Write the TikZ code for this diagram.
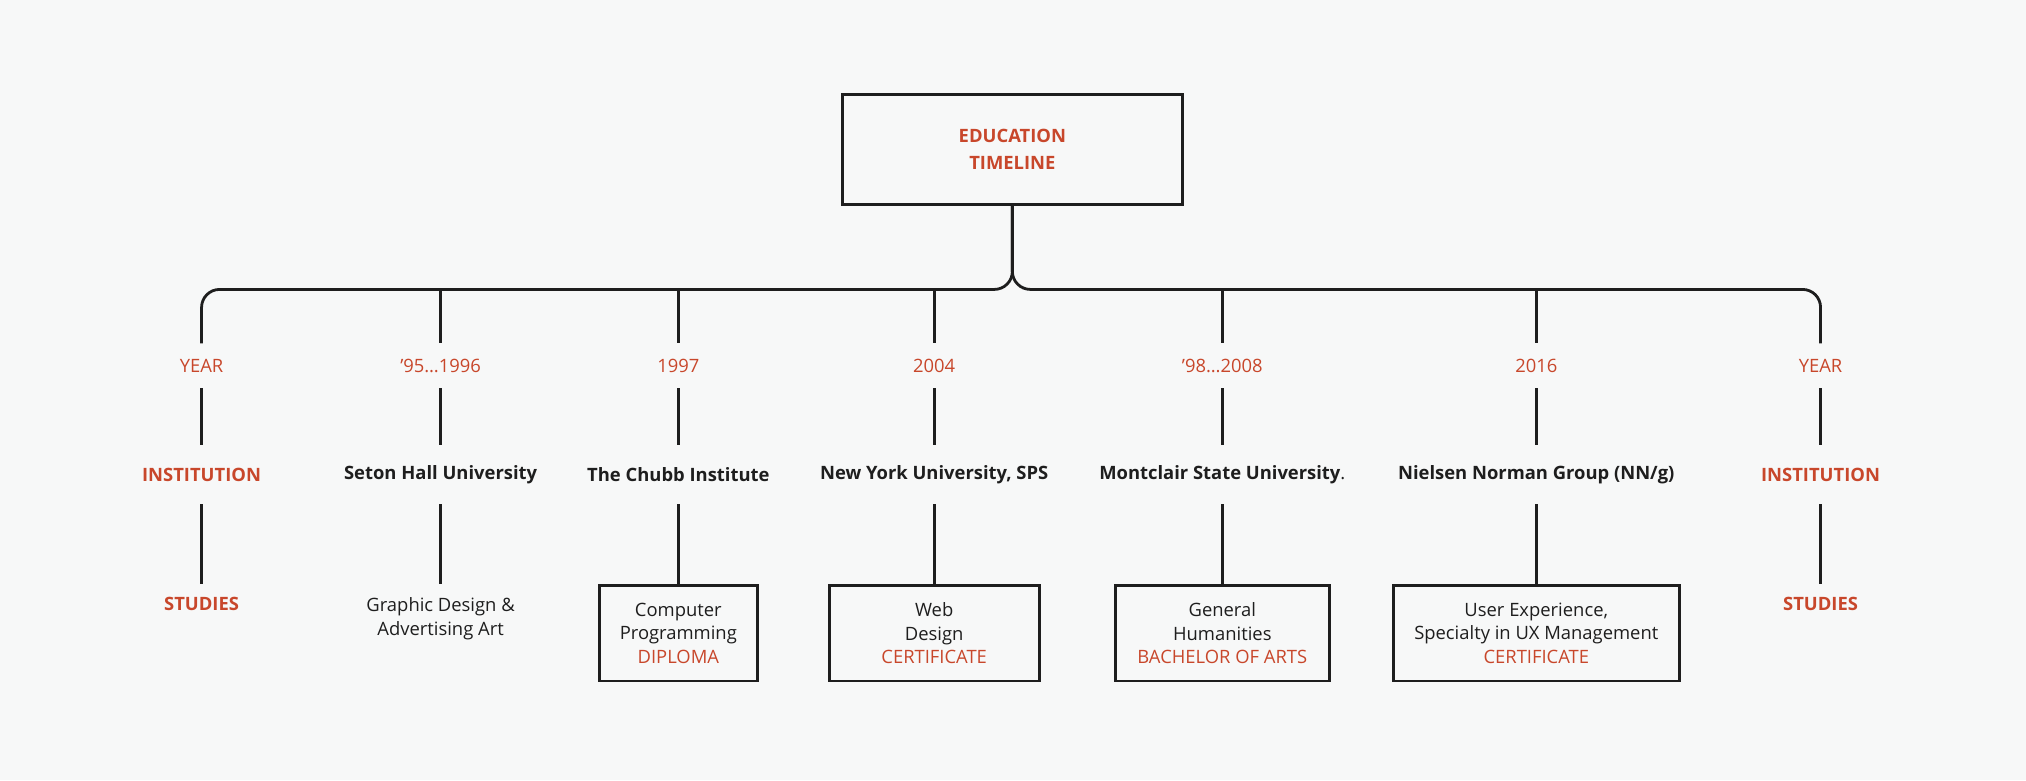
\documentclass[tikz,border=0pt]{standalone}
\usepackage{fontspec}
\setmainfont{Open Sans}
\definecolor{bgcol}{HTML}{F7F8F8}
\definecolor{edured}{HTML}{C8472B}
\definecolor{inkcol}{HTML}{1E1E1E}
\tikzset{
  every node/.style={font=\fontsize{9.2}{11.8}\selectfont, text=inkcol, align=center},
  wire/.style={draw=inkcol, line width=1.4pt},
  yearlbl/.style={text=edured, minimum height=22pt, inner sep=0pt},
  instlbl/.style={font=\fontsize{9.2}{11.8}\selectfont\bfseries, minimum height=29pt, inner sep=0pt},
  studylbl/.style={anchor=north, inner sep=6.5pt},
  studybox/.style={anchor=north, draw=inkcol, line width=1.4pt, minimum height=47.8pt, inner sep=2pt},
}
\begin{document}
\begin{tikzpicture}[x=0.646pt,y=-0.646pt]
\fill[bgcol] (0,0) rectangle (1568,604);
\useasboundingbox (0,0) rectangle (1568,604);
% title box
\node[draw=inkcol, line width=1.4pt, minimum width=170pt, minimum height=55pt,
  font=\fontsize{9.2}{13.5}\selectfont\bfseries, text=edured] (title) at (783.5,115.5) {EDUCATION\\TIMELINE};
% columns
\foreach \n/\x/\yr in {1/156/YEAR, 2/341/'95\dots1996, 3/525/1997, 4/723/2004,
                       5/946/'98\dots2008, 6/1189/2016, 7/1409/YEAR}{
  \node[yearlbl] (year\n) at (\x,283) {\yr};
  \coordinate (bus\n) at (\x,224);
}
\node[instlbl, text=edured] (inst1) at (156,367.5) {INSTITUTION};
\node[instlbl] (inst2) at (341,367.5) {Seton Hall University};
\node[instlbl] (inst3) at (525,367.5) {The Chubb Institute};
\node[instlbl] (inst4) at (723,367.5) {New York University, SPS};
\node[instlbl] (inst5) at (946,367.5) {Montclair State University\textmd{.}};
\node[instlbl] (inst6) at (1189,367.5) {Nielsen Norman Group (NN/g)};
\node[instlbl, text=edured] (inst7) at (1409,367.5) {INSTITUTION};
\node[studylbl, font=\fontsize{9.2}{11.8}\selectfont\bfseries, text=edured] (study1) at (156,452) {STUDIES};
\node[studylbl] (study2) at (341,452) {Graphic Design \&\\Advertising Art};
\node[studybox, minimum width=79pt] (study3) at (525,452) {Computer\\Programming\\\textcolor{edured}{DIPLOMA}};
\node[studybox, minimum width=105pt] (study4) at (723,452) {Web\\Design\\\textcolor{edured}{CERTIFICATE}};
\node[studybox, minimum width=107pt] (study5) at (946,452) {General\\Humanities\\\textcolor{edured}{BACHELOR OF ARTS}};
\node[studybox, minimum width=143pt] (study6) at (1189,452) {User Experience,\\Specialty in UX Management\\\textcolor{edured}{CERTIFICATE}};
\node[studylbl, font=\fontsize{9.2}{11.8}\selectfont\bfseries, text=edured] (study7) at (1409,452) {STUDIES};
% bus
\draw[wire, rounded corners=9pt] (title.south) |- (bus1) -- (year1.north);
\draw[wire, rounded corners=9pt] (title.south) |- (bus7) -- (year7.north);
\foreach \n in {2,...,6}
  \draw[wire] (bus\n) -- (year\n.north);
\foreach \n in {1,...,7}{
  \draw[wire] (year\n) -- (inst\n);
  \draw[wire] (inst\n.south) -- (study\n.north);
}
\end{tikzpicture}
\end{document}
